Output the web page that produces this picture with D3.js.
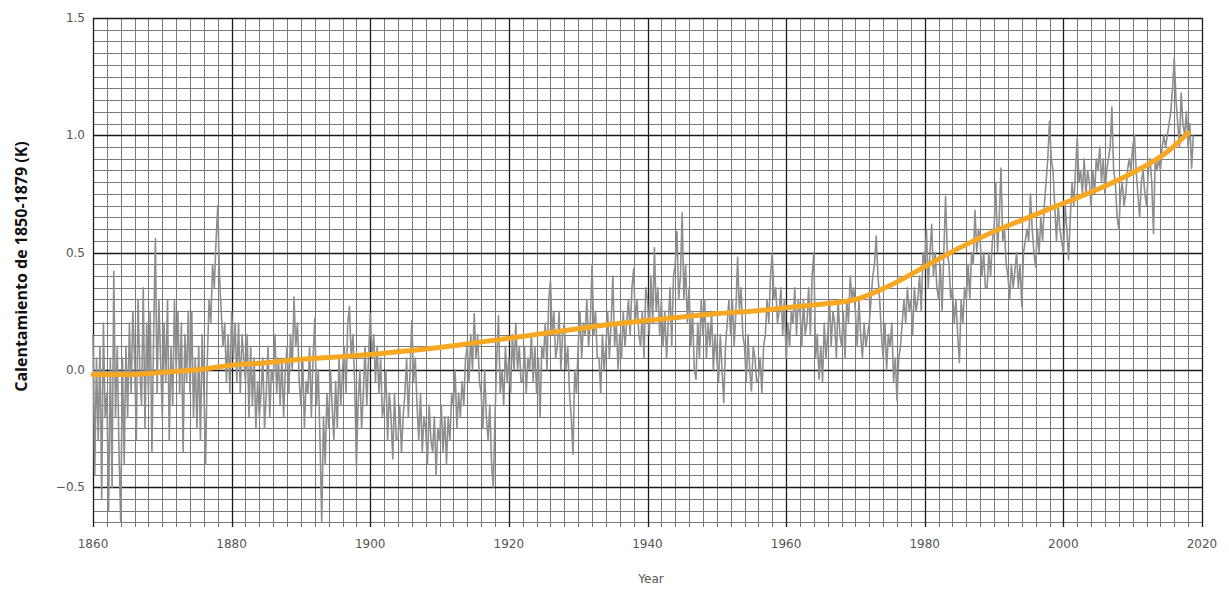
<!DOCTYPE html>
<html>
<head>
<meta charset="utf-8">
<script src="https://cdn.jsdelivr.net/npm/d3@7/dist/d3.min.js"></script>
<style>
  body { margin: 0; background: #fff; }
  .tick-label { font-family: "DejaVu Sans", sans-serif; font-size: 12px; fill: #555; }
  .y-title { font-family: "Open Sans", sans-serif; font-size: 16px; font-weight: bold; fill: #111; }
</style>
</head>
<body>
<svg id="warming" width="1229" height="590"></svg>
<script>
// quarterly anomaly (K vs 1850-1879), 4 values per year starting 1860
var firstYear = 1860;
var anomaly = [
  0.15, -0.45, 0.05, -0.3,   0.1, -0.55, 0.2, -0.2,    -0.1, -0.6, 0.05, -0.5,   0.42, -0.2, 0.1, -0.35,
  -0.65, 0.05, -0.4, 0.1,    -0.2, 0.2, -0.1, 0.25,    0.05, -0.3, 0.3, 0.0,     -0.15, 0.35, -0.25, 0.2,
  -0.1, 0.25, -0.35, 0.15,   0.56, -0.1, 0.3, 0.05,    -0.2, 0.2, -0.05, 0.3,    -0.3, 0.1, -0.15, 0.3,
  0.0, 0.25, -0.1, 0.2,      -0.35, 0.15, -0.05, 0.25, -0.1, 0.25, -0.2, 0.05,   -0.25, 0.1, -0.3, 0.15,
  -0.1, -0.4, 0.05, 0.3,     0.2, 0.45, 0.35, 0.55,    0.7, 0.4, 0.25, 0.1,      0.2, -0.05, 0.15, -0.1,
  0.25, 0.05, 0.2, -0.05,    0.2, -0.1, 0.15, 0.05,    -0.05, 0.15, -0.2, 0.1,   -0.15, 0.05, -0.25, -0.05,
  -0.2, -0.1, 0.05, -0.25,   -0.1, 0.1, -0.2, 0.0,     -0.05, 0.15, -0.1, 0.05,  -0.15, 0.05, -0.2, 0.0,
  0.1, -0.1, 0.15, 0.0,      0.31, 0.1, 0.2, -0.05,    -0.15, 0.05, -0.25, -0.05, -0.1, 0.1, -0.2, 0.05,
  0.22, -0.15, 0.0, -0.3,    -0.65, -0.2, -0.4, -0.1,  -0.25, 0.0, -0.15, -0.3,  -0.05, -0.25, 0.05, -0.15,
  0.0, 0.1, -0.1, 0.2,       0.27, 0.05, 0.15, -0.05,  -0.41, -0.15, 0.0, -0.25, -0.1, 0.1, -0.15, 0.05,
  0.24, 0.05, 0.15, -0.05,   0.1, -0.1, 0.05, -0.2,    -0.15, 0.0, -0.3, -0.1,   -0.2, -0.38, -0.1, -0.3,
  -0.3, -0.15, -0.35, -0.2,  -0.1, 0.05, -0.2, 0.0,    0.21, -0.05, 0.05, -0.15, -0.3, -0.1, -0.35, -0.2,
  -0.25, -0.4, -0.15, -0.3,  -0.35, -0.2, -0.45, -0.25, -0.3, -0.15, -0.35, -0.2, -0.4, -0.2, -0.3, -0.1,
  -0.15, 0.0, -0.25, -0.1,   -0.2, -0.05, -0.15, 0.05, 0.1, -0.05, 0.15, 0.0,    0.24, 0.05, 0.15, -0.05,
  -0.1, -0.25, 0.0, -0.2,    -0.3, -0.15, -0.4, -0.5,  -0.2, 0.05, 0.23, -0.1,   0.0, -0.15, 0.1, -0.05,
  0.05, -0.1, 0.15, 0.0,     0.2, 0.0, 0.1, -0.05,     -0.05, 0.1, -0.1, 0.05,   0.0, 0.15, -0.05, 0.1,
  -0.1, 0.05, -0.2, 0.1,     0.05, 0.2, 0.0, 0.3,      0.38, 0.15, 0.25, 0.05,   0.1, 0.25, 0.0, 0.15,
  0.2, 0.0, 0.1, -0.1,       -0.2, -0.36, 0.0, -0.1,   0.1, 0.25, 0.05, 0.2,     0.15, 0.3, 0.1, 0.2,
  0.45, 0.15, 0.25, 0.05,    0.05, -0.1, 0.15, 0.0,    0.1, 0.25, 0.05, 0.2,     0.4, 0.1, 0.2, 0.0,
  0.15, 0.05, 0.25, 0.1,     0.2, 0.3, 0.15, 0.35,     0.43, 0.2, 0.3, 0.15,     0.1, 0.25, 0.05, 0.35,
  0.3, 0.15, 0.4, 0.2,       0.52, 0.25, 0.35, 0.15,   0.3, 0.1, 0.25, 0.05,     0.2, 0.35, 0.1, 0.4,
  0.45, 0.59, 0.3, 0.4,      0.67, 0.3, 0.45, 0.2,     0.35, 0.1, 0.25, 0.0,     -0.04, 0.2, 0.05, 0.3,
  0.15, 0.3, 0.05, 0.2,      0.1, 0.25, 0.0, 0.15,     0.05, -0.05, 0.15, 0.0,   -0.14, 0.1, 0.2, 0.3,
  0.15, 0.3, 0.1, 0.25,      0.48, 0.25, 0.35, 0.15,   0.1, -0.05, 0.15, 0.0,    -0.09, 0.1, 0.05, -0.05,
  -0.04, 0.05, -0.1, 0.1,    0.15, 0.3, 0.2, 0.4,      0.5, 0.3, 0.35, 0.2,      0.25, 0.35, 0.15, 0.3,
  0.05, 0.2, 0.1, 0.25,      0.2, 0.35, 0.15, 0.3,     0.25, 0.1, 0.3, 0.15,     0.2, 0.35, 0.15, 0.4,
  0.5, 0.05, 0.15, -0.04,    0.1, -0.05, 0.2, 0.05,    0.15, 0.3, 0.1, 0.25,     0.2, 0.05, 0.3, 0.15,
  0.1, 0.25, 0.05, 0.3,      0.2, 0.4, 0.3, 0.35,      0.25, 0.1, 0.3, 0.15,     0.05, 0.2, 0.1, 0.15,
  0.2, 0.3, 0.4, 0.45,       0.57, 0.4, 0.3, 0.15,     0.05, 0.2, 0.0, 0.15,     0.1, 0.2, -0.05, 0.05,
  -0.13, 0.05, 0.1, 0.2,     0.3, 0.2, 0.35, 0.25,     0.3, 0.15, 0.35, 0.25,    0.3, 0.4, 0.25, 0.5,
  0.45, 0.6, 0.35, 0.5,      0.62, 0.4, 0.5, 0.35,     0.3, 0.45, 0.25, 0.5,     0.74, 0.5, 0.45, 0.3,
  0.35, 0.2, 0.3, 0.15,      0.03, 0.3, 0.2, 0.35,     0.3, 0.45, 0.3, 0.5,      0.45, 0.68, 0.5, 0.6,
  0.55, 0.4, 0.5, 0.35,      0.35, 0.5, 0.4, 0.55,     0.6, 0.8, 0.5, 0.65,      0.86, 0.55, 0.6, 0.45,
  0.4, 0.3, 0.45, 0.35,      0.42, 0.5, 0.35, 0.45,    0.27, 0.5, 0.55, 0.6,     0.55, 0.75, 0.6, 0.5,
  0.44, 0.6, 0.5, 0.65,      0.55, 0.7, 0.8, 0.9,      1.06, 0.9, 0.85, 0.7,     0.55, 0.7, 0.6, 0.55,
  0.5, 0.7, 0.6, 0.47,       0.65, 0.8, 0.7, 0.85,     0.99, 0.8, 0.85, 0.75,    0.9, 0.75, 0.85, 0.8,
  0.7, 0.85, 0.75, 0.9,      0.85, 0.95, 0.8, 0.9,     0.75, 0.85, 0.9, 0.95,    1.12, 0.85, 0.8, 0.65,
  0.6, 0.75, 0.8, 0.7,       0.75, 0.85, 0.9, 0.85,    0.95, 1.0, 0.85, 0.75,    0.65, 0.8, 0.85, 0.75,
  0.7, 0.85, 0.9, 0.8,       0.58, 0.9, 0.85, 0.9,     0.85, 0.95, 1.0, 0.95,    1.0, 1.05, 1.1, 1.2,
  1.33, 1.15, 1.05, 0.95,    1.18, 1.05, 1.0, 1.1,     0.95, 1.05, 0.86, 1.0
];

// smoothed trend
var trendYears = [1860, 1865, 1870, 1875, 1880, 1885, 1890, 1895, 1900, 1905, 1910, 1915, 1920, 1925, 1930, 1935,
  1940, 1945, 1950, 1955, 1960, 1965, 1970, 1975, 1980, 1985, 1990, 1995, 2000, 2005, 2010, 2015, 2018];
var trendValues = [-0.02, -0.02, -0.01, 0.0, 0.02, 0.03, 0.045, 0.055, 0.065, 0.08, 0.095, 0.115, 0.135, 0.155, 0.175, 0.195,
  0.21, 0.225, 0.24, 0.25, 0.265, 0.28, 0.30, 0.36, 0.44, 0.52, 0.59, 0.65, 0.71, 0.77, 0.84, 0.93, 1.01];

var xTicks = [1860, 1880, 1900, 1920, 1940, 1960, 1980, 2000, 2020];
var yTicks = [-0.5, 0.0, 0.5, 1.0, 1.5];

var svg = d3.select("#warming"),
  margin = { top: 18, right: 27, bottom: 63, left: 93 },
  width = +svg.attr("width") - margin.left - margin.right,
  height = +svg.attr("height") - margin.top - margin.bottom;

var x = d3.scaleLinear().domain([1860, 2020]).range([0, width]),
  y = d3.scaleLinear().domain([-0.67, 1.5]).range([height, 0]);

var g = svg.append("g")
  .attr("transform", "translate(" + margin.left + "," + margin.top + ")");

// minor grid: every 2 years, every 0.05 K
var minorX = d3.range(1860, 2021, 2);
var minorY = d3.range(-13, 31).map(function (i) { return i * 0.05; });

g.append("g").selectAll("line")
  .data(minorX)
  .enter().append("line")
  .attr("x1", function (d) { return Math.round(x(d)) + 0.5; })
  .attr("x2", function (d) { return Math.round(x(d)) + 0.5; })
  .attr("y1", 0).attr("y2", height)
  .attr("stroke", "#7a7a7a").attr("stroke-width", 1);

g.append("g").selectAll("line")
  .data(minorY)
  .enter().append("line")
  .attr("x1", 0).attr("x2", width)
  .attr("y1", function (d) { return Math.round(y(d)) + 0.5; })
  .attr("y2", function (d) { return Math.round(y(d)) + 0.5; })
  .attr("stroke", "#7a7a7a").attr("stroke-width", 1);

// major grid
g.append("g").selectAll("line")
  .data(xTicks)
  .enter().append("line")
  .attr("x1", function (d) { return Math.round(x(d)) + 0.5; })
  .attr("x2", function (d) { return Math.round(x(d)) + 0.5; })
  .attr("y1", 0).attr("y2", height)
  .attr("stroke", "#1a1a1a").attr("stroke-width", 1.3);

g.append("g").selectAll("line")
  .data(yTicks)
  .enter().append("line")
  .attr("x1", 0).attr("x2", width)
  .attr("y1", function (d) { return Math.round(y(d)) + 0.5; })
  .attr("y2", function (d) { return Math.round(y(d)) + 0.5; })
  .attr("stroke", "#1a1a1a").attr("stroke-width", 1.3);

// tick labels
g.append("g").selectAll("text")
  .data(xTicks)
  .enter().append("text")
  .attr("class", "tick-label")
  .attr("x", function (d) { return x(d); })
  .attr("y", height + 21)
  .attr("text-anchor", "middle")
  .text(function (d) { return d; });

g.append("g").selectAll("text")
  .data(yTicks)
  .enter().append("text")
  .attr("class", "tick-label")
  .attr("x", -8)
  .attr("y", function (d) { return y(d); })
  .attr("dy", "0.35em")
  .attr("text-anchor", "end")
  .text(function (d) { return d3.format(".1f")(d); });

svg.append("text")
  .attr("class", "tick-label")
  .attr("x", 651)
  .attr("y", 583)
  .attr("text-anchor", "middle")
  .text("Year");

svg.append("text")
  .attr("class", "y-title")
  .attr("transform", "translate(27," + (margin.top + height / 2 - 6) + ") rotate(-90)")
  .attr("text-anchor", "middle")
  .text("Calentamiento de 1850-1879 (K)");

// data lines
var raw = anomaly.map(function (v, i) { return { t: firstYear + i / 4, v: v }; });
var trend = trendYears.map(function (t, i) { return { t: t, v: trendValues[i] }; });

g.append("path")
  .datum(raw)
  .attr("fill", "none")
  .attr("stroke", "#8e8e8e")
  .attr("stroke-width", 1.6)
  .attr("stroke-linejoin", "round")
  .attr("d", d3.line()
    .x(function (d) { return x(d.t); })
    .y(function (d) { return y(d.v); }));

g.append("path")
  .datum(trend)
  .attr("fill", "none")
  .attr("stroke", "#f6a823")
  .attr("stroke-width", 5)
  .attr("stroke-linecap", "round")
  .attr("d", d3.line()
    .curve(d3.curveMonotoneX)
    .x(function (d) { return x(d.t); })
    .y(function (d) { return y(d.v); }));
</script>
</body>
</html>
